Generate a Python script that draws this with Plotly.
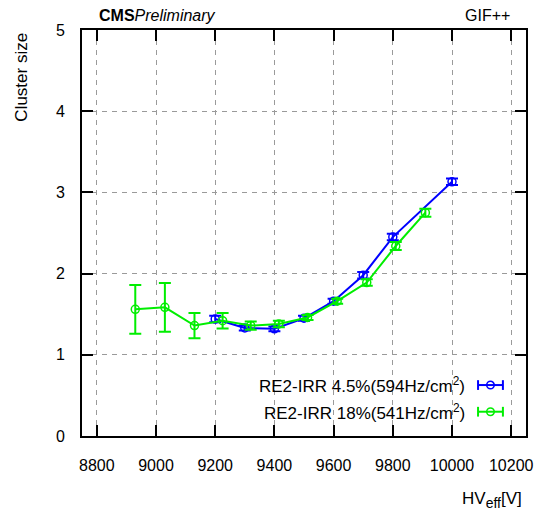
import plotly.graph_objects as go

# Cluster size vs effective HV for the two irradiated RE2 chambers
blue_hv = [9200, 9300, 9400, 9500, 9600, 9700, 9800, 10000]
blue_cs = [1.44, 1.33, 1.32, 1.45, 1.66, 1.98, 2.45, 3.13]
blue_err = [0.04, 0.03, 0.03, 0.03, 0.03, 0.04, 0.04, 0.04]

green_hv = [8930, 9030, 9130, 9225, 9320, 9415, 9512, 9612, 9712, 9810, 9910]
green_cs = [1.56, 1.585, 1.36, 1.42, 1.36, 1.38, 1.46, 1.66, 1.89, 2.34, 2.75]
green_err = [0.30, 0.30, 0.155, 0.095, 0.05, 0.04, 0.03, 0.03, 0.04, 0.05, 0.05]

series_names = ["RE2-IRR 4.5%(594Hz/cm<sup>2</sup>)", "RE2-IRR 18%(541Hz/cm<sup>2</sup>)"]
BLUE = "#0000ff"
GREEN = "#00ee00"

x_ticks = [8800, 9000, 9200, 9400, 9600, 9800, 10000, 10200]
y_ticks = [0, 1, 2, 3, 4, 5]

FONT = "Liberation Sans, Arial, sans-serif"

fig = go.Figure()
for hv, cs, err, col, name in [
    (blue_hv, blue_cs, blue_err, BLUE, series_names[0]),
    (green_hv, green_cs, green_err, GREEN, series_names[1]),
]:
    fig.add_trace(go.Scatter(
        x=hv, y=cs, name=name, mode="lines+markers",
        line=dict(color=col, width=2),
        marker=dict(symbol="circle-open", size=8, color=col, line=dict(width=1.5, color=col)),
        error_y=dict(type="data", array=err, visible=True, color=col, thickness=2, width=6),
        showlegend=False,
    ))

axis_common = dict(
    showline=True, linecolor="black", linewidth=2, mirror="ticks",
    ticks="inside", ticklen=11, tickwidth=1.5, tickcolor="black",
    showgrid=True, gridcolor="#9a9a9a", gridwidth=1, griddash="5px,5px",
    zeroline=False, automargin=False,
    tickfont=dict(family=FONT, size=16, color="black"),
)

fig.update_xaxes(range=[8750, 10250], tickvals=x_ticks,
                 ticktext=[str(v) for v in x_ticks], ticklabelstandoff=14, **axis_common)
fig.update_yaxes(range=[0, 5], tickvals=y_ticks,
                 ticktext=[str(v) for v in y_ticks], ticklabelstandoff=12, **axis_common)

# Hand-drawn legend: label text on the left, error-bar symbol on the right
legend_rows = [(0.1255, BLUE, series_names[0]), (0.0598, GREEN, series_names[1])]
x0, x1 = 0.892, 0.948
xc = (x0 + x1) / 2
cap = 0.012
for yy, col, name in legend_rows:
    fig.add_shape(type="line", xref="paper", yref="paper", x0=x0, x1=x1, y0=yy, y1=yy,
                  line=dict(color=col, width=2))
    for xe in (x0, x1):
        fig.add_shape(type="line", xref="paper", yref="paper", x0=xe, x1=xe,
                      y0=yy - cap, y1=yy + cap, line=dict(color=col, width=2))
    fig.add_shape(type="circle", xref="paper", yref="paper",
                  x0=xc - 0.0085, x1=xc + 0.0085, y0=yy - 0.0093, y1=yy + 0.0093,
                  line=dict(color=col, width=1.5))
    fig.add_annotation(xref="paper", yref="paper", x=0.8665, y=yy, text=name,
                       xanchor="right", yanchor="middle", showarrow=False,
                       font=dict(family=FONT, size=17, color="black"))

fig.add_annotation(xref="paper", yref="paper", x=0.034, y=1.036,
                   text="<b>CMS</b><i>Preliminary</i>", xanchor="left", yanchor="middle",
                   showarrow=False, font=dict(family=FONT, size=16, color="black"))
fig.add_annotation(xref="paper", yref="paper", x=0.968, y=1.036, text="GIF++",
                   xanchor="right", yanchor="middle", showarrow=False,
                   font=dict(family=FONT, size=16, color="black"))
fig.add_annotation(xref="paper", yref="paper", x=0.995, y=-0.157,
                   text="HV<sub><span style='font-size:14px'>eff</span></sub>[V]",
                   xanchor="right", yanchor="middle",
                   showarrow=False, font=dict(family=FONT, size=17, color="black"))
fig.add_annotation(xref="paper", yref="paper", x=-0.137, y=0.883, text="Cluster size",
                   textangle=-90, xanchor="center", yanchor="middle", showarrow=False,
                   font=dict(family=FONT, size=17, color="black"))

fig.update_layout(
    width=535, height=513,
    margin=dict(l=82, r=9, t=30, b=77),
    paper_bgcolor="white", plot_bgcolor="white",
    showlegend=False,
)

fig.write_html("out.html")
